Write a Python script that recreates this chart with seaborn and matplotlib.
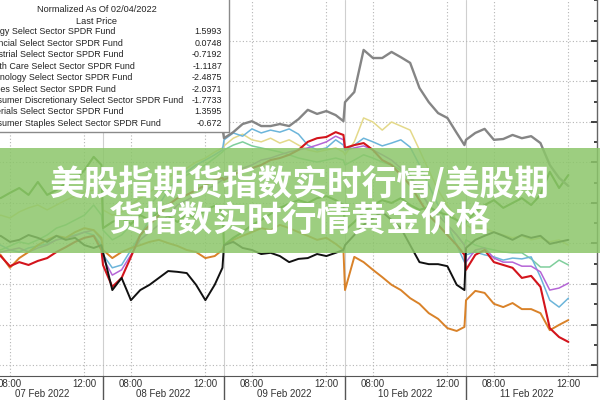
import matplotlib
matplotlib.use("Agg")
import matplotlib.pyplot as plt
import seaborn as sns
import pandas as pd
from matplotlib.patches import Rectangle
from matplotlib.ticker import MultipleLocator

# ---------------- data ----------------
DAYS = ["07 Feb 2022", "08 Feb 2022", "09 Feb 2022", "10 Feb 2022", "11 Feb 2022"]
SESSION = ["06:30", "07:00", "07:30", "08:00", "08:30", "09:00", "09:30",
           "10:00", "10:30", "11:00", "11:30", "12:00", "12:30", "12:55"]
LAST_DAY_POINTS = 12          # last day ends at 12:00
TICK_CLOCKS = ["08:00", "12:00"]

LEGEND_TITLE = "Normalized As Of 02/04/2022"
LEGEND_SUB = "Last Price"
NAMES = ["Energy Select Sector SPDR Fund",
         "Financial Select Sector SPDR Fund",
         "Industrial Select Sector SPDR Fund",
         "Health Care Select Sector SPDR Fund",
         "Technology Select Sector SPDR Fund",
         "Utilities Select Sector SPDR Fund",
         "Consumer Discretionary Select Sector SPDR Fund",
         "Materials Select Sector SPDR Fund",
         "Consumer Staples Select Sector SPDR Fund"]
LAST_PRICE = ["1.5993", "0.0748", "-0.7192", "-1.1187", "-2.4875",
              "-2.0371", "-1.7733", "1.3595", "-0.672"]

energy = [1.07, 1.17, 1.12, 1.25, 1.37, 1.20, 1.52, 1.20, 1.32, 1.49, 1.57, 1.81, 2.14, 1.94,
          0.38, 0.53, 0.63, 0.48, 0.70, 0.58, 0.78, 0.68, 0.53, 0.73, 0.63, 0.83, 0.93, 0.78,
          -0.04, 0.14, 0.28, 0.46, 0.58, 0.73, 0.88, 0.98, 1.07, 1.00, 1.12, 1.17, 1.07, 0.95,
          0.33, 0.53, 0.78, 0.95, 1.07, 1.00, 1.12, 0.95, 0.83, 0.90, 0.78, 0.70, 0.58, 0.46,
          0.53, 0.78, 0.95, 1.07, 0.88, 1.00, 1.12, 0.95, 1.20, 1.77, 1.37, 1.69]
financial = [0.14, 0.09, 0.19, 0.04, 0.09, 0.21, 0.14, 0.04, 0.19, 0.09, 0.14, -0.04, -0.11, -0.04,
             -0.21, -1.15, -0.85, -1.40, -1.15, -1.02, -0.85, -0.68, -0.70, -0.73, -1.02, -1.40, -1.02, -0.60,
             -0.04, 0.04, -0.11, -0.16, -0.26, -0.23, -0.31, -0.46, -0.38, -0.36, -0.26, -0.31, -0.23, -0.16,
             -0.04, 0.21, 0.46, 0.63, 0.78, 0.58, 0.38, -0.04, -0.46, -0.51, -0.51, -0.56, -1.02, -1.15,
             -0.11, 0.09, 0.19, 0.28, 0.19, 0.09, 0.21, 0.14, 0.19, -0.01, 0.04, 0.09]
industrial = [0.09, 0.04, -0.04, -0.16, -0.21, -0.11, -0.06, -0.01, 0.09, 0.14, 0.21, 0.28, 0.21, -0.04,
              -0.28, -0.60, -0.53, -0.16, 0.21, 0.58, 0.95, 1.32, 1.57, 1.77, 1.94, 2.06, 2.19, 2.31,
              2.56, 2.73, 2.65, 2.83, 2.73, 2.80, 2.75, 2.83, 2.70, 2.43, 2.31, 2.36, 2.56, 2.43,
              2.31, 2.43, 2.60, 2.51, 2.41, 2.48, 2.56, 2.38, 1.94, 1.44, 0.95, 0.46, -0.04, -0.46,
              -0.28, -0.21, -0.28, -0.33, -0.41, -0.36, -0.38, -0.33, -0.83, -1.40, -1.57, -1.35]
health = [-0.04, -0.11, -0.21, -0.16, -0.11, -0.21, -0.11, -0.04, 0.09, 0.14, 0.19, 0.28, 0.33, 0.09,
          -0.36, -0.78, -0.65, -0.28, 0.09, 0.28, 0.46, 0.70, 0.95, 1.07, 1.20, 1.32, 1.44, 1.57,
          1.62, 1.77, 1.86, 1.94, 2.06, 2.11, 2.19, 2.26, 2.31, 2.36, 2.43, 2.51, 2.65, 2.56,
          2.31, 2.36, 2.41, 2.31, 2.19, 2.06, 1.86, 1.62, 1.32, 0.95, 0.70, 0.46, 0.21, -0.04,
          -0.46, -0.16, -0.11, -0.36, -0.46, -0.46, -0.56, -0.56, -0.70, -1.15, -1.10, -0.98]
technology = [-0.11, -0.21, -0.31, -0.56, -0.46, -0.53, -0.43, -0.36, -0.21, -0.09, 0.04, 0.14, 0.19, -0.16,
              -0.53, -1.07, -0.85, -0.33, 0.21, 0.46, 0.70, 0.95, 1.12, 1.20, 1.32, 1.44, 1.57, 1.62,
              1.57, 1.69, 1.81, 1.86, 1.94, 2.06, 2.11, 2.19, 2.31, 2.51, 2.60, 2.63, 2.75, 2.68,
              2.36, 2.43, 2.48, 2.31, 2.06, 1.94, 1.69, 1.44, 1.07, 0.70, 0.46, 0.21, -0.04, -0.28,
              -0.65, -0.28, -0.16, -0.46, -0.53, -0.60, -0.85, -0.80, -1.07, -2.09, -2.31, -2.43]
utilities = [0.46, 0.58, 0.70, 0.63, 0.78, 0.88, 0.95, 0.83, 0.95, 1.07, 1.17, 1.27, 1.32, 1.12,
             0.83, 0.70, 0.78, 0.95, 1.12, 1.27, 1.44, 1.62, 1.77, 1.86, 2.01, 2.11, 2.26, 2.36,
             2.41, 2.60, 2.70, 2.56, 2.51, 2.60, 2.48, 2.56, 2.43, 2.31, 2.26, 2.31, 2.36, 2.26,
             2.19, 2.51, 3.10, 3.00, 2.80, 3.00, 2.90, 2.80, 2.31, 1.81, 1.32, 0.95, 0.58, 0.21,
             0.46, 0.33, 0.38, 0.28, 0.21, 0.14, 0.19, 0.09, 0.14, 0.04, 0.09, -0.04]
discretionary = [-0.04, -0.16, -0.28, -0.60, -0.36, -0.21, -0.04, 0.09, 0.19, 0.14, 0.28, 0.38, 0.33, 0.14,
                 -0.16, -0.36, -0.21, -0.11, -0.04, 0.04, 0.09, 0.01, -0.06, -0.16, -0.21, -0.36, -0.31, -0.16,
                 -0.04, 0.09, 0.19, 0.28, 0.38, 0.33, 0.46, 0.38, 0.28, 0.19, 0.09, 0.14, -0.01, -0.16,
                 -1.15, -0.33, -0.46, -0.65, -0.83, -1.02, -1.15, -1.35, -1.49, -1.72, -1.86, -2.09, -2.16, -2.06,
                 -1.40, -1.17, -1.22, -1.49, -1.57, -1.47, -1.62, -1.62, -1.72, -2.14, -2.01, -1.89]
materials = [2.93, 3.00, 3.10, 3.17, 3.12, 3.25, 3.30, 3.20, 3.25, 3.35, 3.40, 3.30, 3.25, 3.17,
             3.10, 3.05, 3.15, 3.25, 3.17, 3.10, 3.20, 3.30, 3.25, 3.15, 3.05, 3.10, 3.00, 2.85,
             2.60, 2.75, 2.95, 3.02, 2.90, 2.90, 2.95, 2.90, 3.07, 3.30, 3.20, 3.27, 3.17, 3.02,
             3.49, 3.74, 4.78, 4.58, 4.58, 4.73, 4.60, 4.46, 3.84, 3.49, 3.22, 3.10, 2.73, 2.43,
             2.56, 2.73, 2.83, 2.56, 2.58, 2.68, 2.60, 2.65, 2.48, 1.94, 1.62, 1.42]
staples = [-0.04, -0.11, -0.16, -0.06, 0.04, -0.01, 0.09, 0.21, 0.38, 0.46, 0.58, 0.70, 0.95, 0.70,
           0.33, 0.09, 0.21, 0.46, 0.70, 0.95, 1.20, 1.37, 1.52, 1.69, 1.81, 1.94, 2.11, 2.26,
           2.31, 2.43, 2.51, 2.41, 2.36, 2.31, 2.26, 2.19, 2.11, 2.06, 2.01, 2.06, 2.11, 2.06,
           1.94, 2.06, 2.19, 2.11, 2.01, 1.94, 1.81, 1.69, 1.32, 0.95, 0.70, 0.46, 0.21, -0.04,
           0.09, -0.04, -0.11, -0.16, -0.21, -0.23, -0.23, -0.38, -0.58, -0.58, -0.41, -0.53]

BANNER_1 = "美股指期货指数实时行情/美股期"
BANNER_2 = "货指数实时行情黄金价格"

# ---------------- styling ----------------
sns.set_style("white")
plt.rcParams['font.family'] = ['Liberation Sans', 'DejaVu Sans']

W, H = 600, 400
fig = plt.figure(figsize=(6, 4), dpi=100)
fig.patch.set_facecolor("white")

def fx(px):
    return px / W

def fy(py):
    return 1 - py / H

SESSION_LEN = 6.5
OPEN_H = 6.5

def clock_to_h(c):
    h, m = c.split(":")
    return int(h) + int(m) / 60.0

times = []
for d in range(len(DAYS)):
    clocks = SESSION if d < len(DAYS) - 1 else SESSION[:LAST_DAY_POINTS]
    for c in clocks:
        times.append(d * SESSION_LEN + clock_to_h(c) - OPEN_H)

# axes placed in pixel space (plot region extends beyond the left image edge)
L_px, R_px, T_px, B_px = -40, 597, 0, 376
ax = fig.add_axes([fx(L_px), fy(B_px), fx(R_px - L_px), (B_px - T_px) / H])
px_per_h = 121 / SESSION_LEN
x0_px = -18
ax.set_xlim((L_px - x0_px) / px_per_h, (R_px - x0_px) / px_per_h)
ax.set_ylim((243.5 - B_px) / 40.5, (243.5 - T_px) / 40.5)

series = [
    ("Utilities", utilities, "#e4d98a", 1.1),
    ("Consumer Staples", staples, "#7fce9c", 1.1),
    ("Industrial", industrial, "#6cb5da", 1.1),
    ("Health Care", health, "#b565d6", 1.1),
    ("Consumer Discretionary", discretionary, "#d98229", 1.4),
    ("Technology", technology, "#d3141c", 1.5),
    ("Energy", energy, "#3f7f1f", 1.5),
    ("Financial", financial, "#111111", 1.4),
    ("Materials", materials, "#858585", 1.7),
]
for name, vals, col, lw in series:
    df = pd.DataFrame({"t": times, "v": vals})
    sns.lineplot(data=df, x="t", y="v", ax=ax, color=col, linewidth=lw,
                 estimator=None, sort=False, legend=False)

# grid / ticks
major_x = []
labels_x = []
minor_x = []
for d in range(len(DAYS)):
    for c in TICK_CLOCKS:
        major_x.append(d * SESSION_LEN + clock_to_h(c) - OPEN_H)
        labels_x.append(c)
    for hh in (7, 9, 10, 11):
        minor_x.append(d * SESSION_LEN + hh - OPEN_H)
ax.set_xticks(major_x)
ax.set_xticklabels(labels_x)
ax.set_xticks(minor_x, minor=True)
ax.set_yticks(range(-3, 6))
ax.yaxis.set_minor_locator(MultipleLocator(0.5))
ax.yaxis.tick_right()
ax.tick_params(axis="y", which="both", direction="in", labelright=False,
               color="#222222", width=1.2)
ax.tick_params(axis="y", which="major", length=4)
ax.tick_params(axis="y", which="minor", length=2)
ax.tick_params(axis="x", which="major", direction="in", length=3, pad=2,
               labelsize=7, labelcolor="#333333", color="#666666")
ax.tick_params(axis="x", which="minor", direction="in", length=2, color="#666666")
ax.grid(True, which="major", linestyle=(0, (1, 2)), color="#b5b5b5", linewidth=0.8)
ax.set_xlabel("")
ax.set_ylabel("")
for s in ("top", "left"):
    ax.spines[s].set_visible(False)
ax.spines["right"].set_color("#666666")
ax.spines["right"].set_linewidth(1.0)
ax.spines["bottom"].set_color("#555555")
ax.spines["bottom"].set_linewidth(0.8)

tr = ax.get_xaxis_transform()
for d in range(1, len(DAYS)):
    xb = d * SESSION_LEN
    ax.axvline(xb, color="#cfcfcf", lw=0.8, zorder=0.5)
    ax.plot([xb, xb], [0, -0.07], transform=tr, clip_on=False, color="#555555", lw=1.0)
for d, lab in enumerate(DAYS):
    ax.text(d * SESSION_LEN + SESSION_LEN / 2, -0.048, lab, transform=tr,
            ha="center", va="center", fontsize=7, color="#333333")

# legend box (Bloomberg style, partly cut off at the left)
fig.add_artist(Rectangle((fx(-60), fy(132)), fx(229 + 60), (132 + 5) / H,
                         transform=fig.transFigure, facecolor="white",
                         edgecolor="#8a8a8a", lw=1.0, zorder=5))
LEG_FS = 6.4
fig.text(fx(97), fy(9), LEGEND_TITLE, ha="center", va="center", fontsize=LEG_FS + 0.2,
         color="#222222", zorder=6)
fig.text(fx(97), fy(21), LEGEND_SUB, ha="center", va="center", fontsize=LEG_FS + 0.2,
         color="#222222", zorder=6)
for i, (nm, lp) in enumerate(zip(NAMES, LAST_PRICE)):
    yy = 32 + 11.4 * i
    fig.text(fx(-19), fy(yy), nm, ha="left", va="center", fontsize=LEG_FS,
             color="#222222", zorder=6)
    fig.text(fx(222), fy(yy), lp, ha="right", va="center", fontsize=LEG_FS,
             color="#222222", zorder=6)

# green banner with overlay text
fig.add_artist(Rectangle((fx(-10), fy(253)), fx(620), (253 - 148) / H,
                         transform=fig.transFigure, facecolor="#8cc66a",
                         edgecolor="none", alpha=0.85, zorder=7))
for txt, yy in ((BANNER_1, 183), (BANNER_2, 220)):
    fig.text(0.5, fy(yy), txt, ha="center", va="center", fontsize=25,
             fontweight="bold", color="white", zorder=8,
             family=["Noto Sans CJK SC", "DejaVu Sans"])

fig.savefig("out.png", dpi=100)
